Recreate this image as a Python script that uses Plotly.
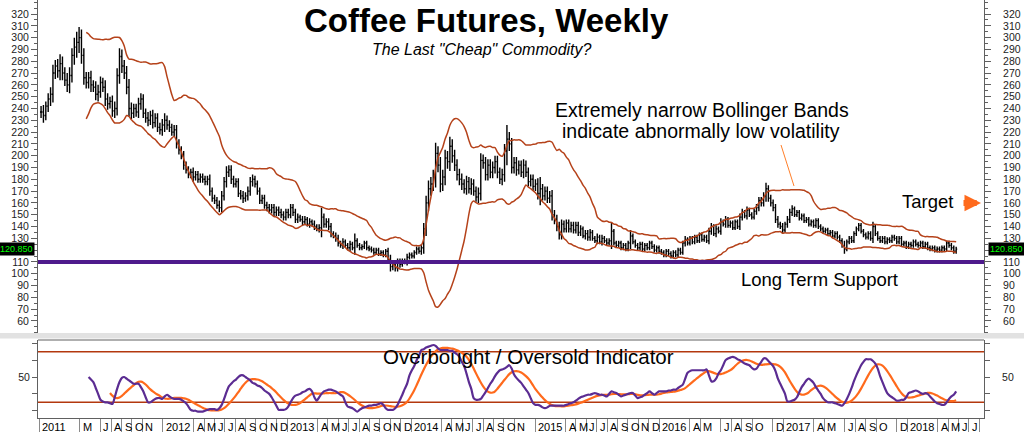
import numpy as np
import pandas as pd
import plotly.graph_objects as go

# ---------------- data ----------------
first_week = "2011-01-07"

closes = [
    237, 234, 242, 248, 252, 270, 276, 272, 278, 270,
    264, 260, 268, 285, 292, 296, 300, 285, 266, 262,
    266, 260, 258, 252, 254, 262, 258, 248, 244, 246,
    238, 240, 268, 284, 276, 270, 258, 240, 236, 240,
    237, 244, 248, 236, 232, 230, 234, 228, 232, 224,
    222, 226, 230, 226, 224, 220, 222, 210, 205, 200,
    192, 188, 184, 186, 182, 184, 180, 182, 180, 178,
    180, 170, 164, 162, 158, 156, 166, 178, 186, 188,
    180, 176, 178, 168, 166, 164, 166, 170, 178, 180,
    176, 170, 162, 164, 158, 156, 154, 156, 152, 154,
    152, 150, 148, 152, 150, 156, 152, 146, 148, 146,
    144, 146, 142, 144, 142, 140, 138, 139, 148, 142,
    144, 140, 134, 132, 130, 126, 124, 127, 124, 122,
    125, 122, 128, 124, 122, 123, 126, 122, 121, 120,
    118, 120, 117, 118, 116, 119, 112, 106, 108, 105,
    110, 108, 111, 110, 114, 116, 115, 118, 121, 119,
    122, 138, 160, 172, 176, 182, 202, 192, 176, 182,
    198, 195, 208, 200, 192, 184, 180, 176, 172, 178,
    172, 176, 170, 165, 168, 196, 194, 184, 192, 186,
    190, 195, 186, 180, 184, 204, 214, 210, 190, 194,
    188, 192, 186, 192, 186, 178, 180, 174, 176, 168,
    172, 166, 170, 164, 166, 150, 146, 140, 133, 142,
    138, 143, 138, 141, 137, 141, 135, 138, 132, 134,
    131, 135, 130, 128, 131, 127, 130, 128, 126, 128,
    136, 126, 124, 126, 122, 124, 121, 126, 132, 127,
    124, 122, 125, 121, 124, 122, 126, 123, 120, 122,
    119, 118, 116, 119, 117, 115, 118, 116, 120, 118,
    126, 129, 126, 130, 127, 131, 128, 133, 129, 131,
    128, 136, 140, 134, 138, 136, 144, 142, 146, 141,
    143, 139, 144, 140, 148, 152, 149, 154, 150, 148,
    153, 156, 162, 160, 166, 172, 164, 160, 156, 146,
    142, 140, 137, 142, 146, 152, 155, 150, 152, 147,
    149, 145, 146, 142, 144, 141, 145, 140, 138, 136,
    137, 134, 135, 132, 134, 131, 128, 124, 121, 127,
    130, 128, 134, 138, 141, 136, 133, 131, 134, 130,
    140, 134, 130, 128, 130, 127, 129, 128, 131, 130,
    127, 130, 125, 126, 123, 125, 124, 127, 125, 124,
    126, 123, 125, 122, 121, 122, 120, 121, 120, 122,
    121, 126, 124, 122, 119, 120.85,
]

wick = [
    5, 6, 4, 5, 6, 7, 5, 6, 8, 6, 5, 6, 7, 6, 8, 9, 9, 7, 6, 5,
    5, 6, 4, 5, 6, 5, 4, 6, 5, 4, 5, 6, 6, 7, 6, 5, 6, 7, 5, 4,
    4, 5, 5, 4, 4, 5, 4, 5, 4, 4, 4, 5, 6, 4, 4, 3, 4, 4, 4, 3,
    4, 3, 3, 3, 4, 3, 3, 3, 3, 3, 3, 4, 3, 3, 3, 4, 4, 4, 5, 4,
    4, 3, 3, 3, 3, 4, 3, 4, 4, 4, 3, 3, 3, 3, 3, 3, 3, 3, 3, 3,
    3, 3, 3, 3, 3, 3, 3, 3, 3, 2, 3, 3, 2, 3, 2, 3, 2, 3, 8, 3,
    3, 3, 3, 2, 3, 3, 2, 3, 2, 2, 3, 2, 6, 2, 2, 2, 2, 2, 2, 2,
    2, 2, 2, 2, 2, 2, 3, 4, 3, 3, 3, 3, 2, 2, 3, 2, 2, 2, 2, 2,
    3, 5, 6, 7, 6, 6, 9, 6, 7, 6, 7, 6, 8, 6, 5, 5, 5, 5, 4, 5,
    4, 5, 4, 4, 5, 6, 5, 5, 5, 5, 5, 5, 5, 4, 5, 6, 12, 6, 5, 5,
    5, 4, 4, 5, 4, 4, 4, 4, 4, 5, 10, 4, 4, 4, 4, 5, 4, 4, 4, 4,
    3, 3, 3, 3, 3, 3, 3, 3, 2, 3, 3, 3, 2, 2, 3, 2, 3, 2, 2, 2,
    7, 2, 2, 2, 2, 2, 2, 2, 5, 2, 2, 2, 2, 2, 2, 2, 2, 2, 2, 2,
    2, 2, 2, 2, 2, 2, 2, 2, 2, 2, 2, 3, 2, 2, 2, 2, 2, 2, 2, 2,
    2, 3, 3, 2, 3, 2, 3, 2, 3, 2, 2, 2, 2, 2, 3, 3, 2, 3, 2, 2,
    2, 3, 3, 3, 3, 5, 3, 3, 3, 3, 3, 2, 3, 2, 3, 3, 3, 2, 2, 2,
    2, 2, 2, 2, 2, 2, 2, 2, 2, 2, 2, 2, 2, 2, 2, 2, 2, 2, 4, 2,
    2, 2, 2, 2, 2, 2, 2, 2, 2, 2, 4, 2, 2, 2, 2, 2, 2, 2, 2, 2,
    2, 2, 2, 2, 2, 2, 2, 2, 2, 2, 2, 2, 2, 2, 2, 2, 2, 2, 2, 2,
    2, 2, 2, 2, 2, 2,
]

osc_start_week = 20
osc_fast = [
    50, 47, 44, 37, 30, 23, 21, 20, 20, 19,
    18, 26, 36, 44, 49, 50, 48, 46, 44, 42,
    42, 42, 38, 33, 26, 20, 20, 22, 24, 25,
    25, 24, 27, 29, 27, 25, 24, 24, 24, 23,
    21, 19, 15, 11, 10, 10, 9, 9, 9, 10,
    11, 12, 12, 12, 11, 13, 17, 24, 32, 39,
    42, 45, 47, 50, 52, 52, 50, 48, 46, 43,
    42, 40, 39, 37, 34, 32, 30, 26, 21, 16,
    11, 11, 11, 12, 15, 20, 25, 28, 29, 30,
    32, 33, 35, 36, 33, 26, 22, 26, 30, 33,
    34, 35, 35, 34, 33, 31, 29, 27, 20, 15,
    14, 13, 11, 9, 11, 13, 14, 15, 16, 16,
    17, 17, 18, 19, 17, 13, 11, 11, 11, 13,
    17, 23, 29, 36, 42, 52, 58, 63, 70, 75,
    82, 83, 85, 86, 87, 88, 87, 84, 82, 82,
    82, 82, 81, 81, 79, 77, 74, 68, 63, 54,
    44, 36, 25, 23, 23, 24, 28, 32, 37, 42,
    46, 51, 55, 58, 59, 60, 62, 64, 60, 53,
    49, 46, 43, 39, 35, 31, 25, 19, 17, 17,
    16, 14, 13, 14, 16, 16, 16, 16, 16, 16,
    16, 17, 18, 19, 20, 22, 24, 26, 27, 28,
    29, 29, 30, 31, 30, 29, 29, 28, 27, 30,
    33, 32, 31, 29, 27, 28, 29, 30, 31, 31,
    28, 25, 26, 27, 29, 31, 33, 31, 29, 31,
    33, 33, 33, 33, 34, 34, 35, 35, 37, 39,
    41, 48, 55, 57, 58, 58, 58, 58, 58, 58,
    59, 52, 45, 45, 48, 54, 58, 64, 70, 72,
    73, 74, 73, 71, 70, 68, 66, 65, 64, 61,
    59, 60, 64, 68, 72, 72, 69, 66, 63, 57,
    48, 42, 36, 30, 21, 21, 22, 23, 26, 32,
    38, 42, 46, 48, 46, 43, 38, 34, 30, 25,
    22, 20, 20, 20, 19, 18, 17, 16, 19, 24,
    30, 37, 45, 52, 58, 64, 68, 71, 71, 71,
    69, 66, 60, 51, 44, 37, 31, 28, 26, 24,
    22, 22, 23, 23, 26, 31, 32, 33, 34, 33,
    31, 30, 31, 30, 27, 24, 21, 19, 18, 17,
    17, 20, 24, 27, 29, 33,
]

# x-axis period labels (month start, label)
month_labels = [
    ("2011-01", "2011"), ("2011-05", "M"), ("2011-07", "J"), ("2011-08", "A"),
    ("2011-09", "S"), ("2011-10", "O"), ("2011-11", "N"),
    ("2012-01", "2012"), ("2012-04", "A"), ("2012-05", "M"), ("2012-06", "J"),
    ("2012-07", "J"), ("2012-08", "A"), ("2012-09", "S"), ("2012-10", "O"),
    ("2012-11", "N"), ("2012-12", "D"),
    ("2013-01", "2013"), ("2013-04", "A"), ("2013-05", "M"), ("2013-06", "J"),
    ("2013-07", "J"), ("2013-08", "A"), ("2013-09", "S"), ("2013-10", "O"),
    ("2013-11", "N"), ("2013-12", "D"),
    ("2014-01", "2014"), ("2014-04", "A"), ("2014-05", "M"), ("2014-06", "J"),
    ("2014-07", "J"), ("2014-08", "A"), ("2014-09", "S"), ("2014-10", "O"),
    ("2014-11", "N"),
    ("2015-01", "2015"), ("2015-04", "A"), ("2015-05", "M"), ("2015-06", "J"),
    ("2015-07", "J"), ("2015-08", "A"), ("2015-09", "S"), ("2015-10", "O"),
    ("2015-11", "N"), ("2015-12", "D"),
    ("2016-01", "2016"), ("2016-04", "A"), ("2016-05", "M"), ("2016-07", "J"),
    ("2016-08", "A"), ("2016-09", "S"), ("2016-10", "O"), ("2016-12", "D"),
    ("2017-01", "2017"), ("2017-04", "A"), ("2017-05", "M"), ("2017-07", "J"),
    ("2017-08", "A"), ("2017-09", "S"), ("2017-10", "O"), ("2017-12", "D"),
    ("2018-01", "2018"), ("2018-04", "A"), ("2018-05", "M"), ("2018-06", "J"),
    ("2018-07", "J"), ("2018-08", ""),
]

price_ticks = list(range(60, 330, 10))
osc_ticks = [10, 30, 50, 70, 90]
osc_tick_text = ["", "", "50", "", ""]
support_level = 110
target_level = 160
overbought, oversold = 80, 20
bb_period, bb_mult, signal_period = 20, 2, 10

# ---------------- derived series ----------------
dates = pd.date_range(first_week, periods=len(closes), freq="W-FRI")
c = np.array(closes, dtype=float)
o = np.r_[c[0], c[:-1]]
w = np.array(wick, dtype=float)
hi = np.maximum(o, c) + w
lo = np.minimum(o, c) - w

cs = pd.Series(c)
mid = cs.rolling(bb_period).mean()
sd = cs.rolling(bb_period).std(ddof=0)
upper = mid + bb_mult * sd
lower = mid - bb_mult * sd

fast = pd.Series([np.nan] * osc_start_week + osc_fast)
slow = fast.rolling(signal_period).mean()

# tick text: the last-price box covers the label nearest to it
last_price = closes[-1]
price_tick_text = ["" if abs(v - last_price) < 5 else str(v) for v in price_ticks]

# ---------------- figure ----------------
W, H = 1024, 432
ML, MR, MT, MB = 38, 40, 0, 14
PH = H - MT - MB
PW = W - ML - MR
main_bottom_px = 333
low_top_px = 340


def py(px):  # pixel y from top -> paper y
    return (PH - (px - MT)) / PH


def pxx(px):  # pixel x -> paper x
    return (px - ML) / PW


BAND = "#B5421A"
BLACK = "#000000"
PURPLE = "#5B2C92"
ORANGE = "#FF6A1C"
SUPPORT = "#4E1A8C"
AXIS = "#606060"
FONT = "Liberation Sans, Arial, sans-serif"

fig = go.Figure()

fig.add_trace(go.Ohlc(
    x=dates, open=o, high=hi, low=lo, close=c,
    increasing=dict(line=dict(color=BLACK, width=1.4)),
    decreasing=dict(line=dict(color=BLACK, width=1.4)),
    tickwidth=0.45, xaxis="x", yaxis="y", hoverinfo="skip", showlegend=False,
))
for band in (upper, lower):
    fig.add_trace(go.Scatter(
        x=dates, y=band, mode="lines", line=dict(color=BAND, width=1.5, shape="spline", smoothing=0.6),
        xaxis="x", yaxis="y", hoverinfo="skip", showlegend=False,
    ))
fig.add_trace(go.Scatter(
    x=dates, y=slow, mode="lines", line=dict(color=ORANGE, width=2.2, shape="spline", smoothing=0.8),
    xaxis="x2", yaxis="y2", hoverinfo="skip", showlegend=False,
))
fig.add_trace(go.Scatter(
    x=dates, y=fast, mode="lines", line=dict(color=PURPLE, width=2.2, shape="spline", smoothing=0.8),
    xaxis="x2", yaxis="y2", hoverinfo="skip", showlegend=False,
))

xrange = ["2010-12-29", "2018-08-15"]
main_dom = [py(main_bottom_px), 1.0]
low_dom = [0.0, py(low_top_px)]
yr_main = [49.8, 331.9]
yr_low = [1.4, 93.9]

tick_dates = [pd.Timestamp(m + "-01") for m, _ in month_labels]

ycommon = dict(
    range=yr_main, tickvals=price_ticks, ticktext=price_tick_text, ticks="outside", ticklen=6,
    tickcolor=AXIS, showline=True, linecolor=AXIS, linewidth=1, showgrid=False, zeroline=False,
    tickfont=dict(size=10.5, color="#222", family=FONT),
    minor=dict(dtick=5, tick0=0, ticks="outside", ticklen=3, tickcolor=AXIS, showgrid=False),
)
lcommon = dict(
    range=yr_low, tickvals=osc_ticks, ticktext=osc_tick_text, ticks="outside", ticklen=5,
    tickcolor=AXIS, showline=True, linecolor=AXIS, linewidth=1, showgrid=False, zeroline=False,
    tickfont=dict(size=10.5, color="#222", family=FONT),
)

fig.update_layout(
    width=W, height=H, autosize=False,
    margin=dict(l=ML, r=MR, t=MT, b=MB, pad=0),
    paper_bgcolor="white", plot_bgcolor="white",
    showlegend=False,
    font=dict(family=FONT, color="#000"),
    xaxis=dict(domain=[0, 1], anchor="y", type="date", range=xrange, showticklabels=False,
               showline=False, ticks="", showgrid=False, zeroline=False,
               rangeslider=dict(visible=False)),
    xaxis2=dict(domain=[0, 1], anchor="y2", type="date", range=xrange, matches="x",
                tickvals=tick_dates, ticktext=[""] * len(tick_dates), ticks="outside",
                ticklen=14, tickcolor="#8a8a8a", tickwidth=1, showline=True, linecolor=AXIS,
                showgrid=False, zeroline=False, rangeslider=dict(visible=False)),
    yaxis=dict(domain=main_dom, anchor="x", side="left", **ycommon),
    yaxis3=dict(overlaying="y", anchor="x", side="right", ticklabelstandoff=10, **ycommon),
    yaxis2=dict(domain=low_dom, anchor="x2", side="left", **lcommon),
    yaxis4=dict(overlaying="y2", anchor="x2", side="right", ticklabelstandoff=10, **lcommon),
)

# dummy traces to activate right axes
fig.add_trace(go.Scatter(x=[dates[0]], y=[None], xaxis="x", yaxis="y3", showlegend=False, hoverinfo="skip"))
fig.add_trace(go.Scatter(x=[dates[0]], y=[None], xaxis="x2", yaxis="y4", showlegend=False, hoverinfo="skip"))

shapes = [
    # separator band between panels
    dict(type="rect", xref="paper", yref="paper", x0=-ML / PW, x1=1 + MR / PW,
         y0=py(338.5), y1=py(main_bottom_px), fillcolor="#e2e2e2", line=dict(width=0), layer="below"),
    dict(type="line", xref="paper", yref="paper", x0=0, x1=1, y0=py(low_top_px), y1=py(low_top_px),
         line=dict(color=AXIS, width=1)),
    # support line
    dict(type="line", xref="paper", yref="y", x0=0, x1=1, y0=support_level, y1=support_level,
         line=dict(color=SUPPORT, width=4)),
    # overbought / oversold levels
    dict(type="line", xref="paper", yref="y2", x0=0, x1=1, y0=overbought, y1=overbought,
         line=dict(color="#B3380E", width=1.5), layer="below"),
    dict(type="line", xref="paper", yref="y2", x0=0, x1=1, y0=oversold, y1=oversold,
         line=dict(color="#B3380E", width=1.5), layer="below"),
    # leader line from annotation to bands
    dict(type="line", xref="paper", yref="paper", x0=pxx(781), y0=py(145), x1=pxx(794), y1=py(186),
         line=dict(color="#FF7F2A", width=1)),
]
fig.update_layout(shapes=shapes)

ann = [
    dict(text="<b>Coffee Futures, Weekly</b>", x=pxx(486), y=py(20), font=dict(size=33, color="#000")),
    dict(text="<i>The Last \"Cheap\" Commodity?</i>", x=pxx(482), y=py(49), font=dict(size=16, color="#000")),
    dict(text="Extremely narrow Bollinger Bands", x=pxx(702), y=py(110), font=dict(size=19.5, color="#000")),
    dict(text="indicate abnormally low volatility", x=pxx(701), y=py(131), font=dict(size=19.5, color="#000")),
    dict(text="Long Term Support", x=pxx(819), y=py(279), font=dict(size=18.5, color="#000")),
    dict(text="Target", x=pxx(955), y=py(201), xanchor="right", font=dict(size=18.5, color="#000")),
    dict(text="Overbought / Oversold Indicator", x=pxx(528), y=py(356), font=dict(size=20.5, color="#000")),
]
for a in ann:
    a.setdefault("xanchor", "center")
    fig.add_annotation(xref="paper", yref="paper", yanchor="middle", showarrow=False, **a)

# target arrow
fig.add_annotation(xref="paper", yref="y", x=pxx(981), y=target_level, ax=-19, ay=0,
                   text="", showarrow=True, arrowhead=2, arrowsize=0.55, arrowwidth=6,
                   arrowcolor="#FF6A1C", standoff=0)

# last price boxes
last_txt = f"{last_price:.3f}"
for xp, xa, xs in ((0, "right", -3), (1, "left", 4)):
    fig.add_annotation(xref="paper", yref="y", x=xp, y=last_price, xanchor=xa, xshift=xs,
                       text=last_txt, showarrow=False, bgcolor="#000", borderpad=1,
                       font=dict(size=9, color="#00FF00", family=FONT))

# month / year labels
for (m, lab), d in zip(month_labels, tick_dates):
    if not lab:
        continue
    fig.add_annotation(xref="x2", yref="paper", x=d, y=0, xanchor="left", yanchor="top",
                       xshift=1, yshift=-1, text=lab, showarrow=False,
                       font=dict(size=11, color="#000", family=FONT))

fig.write_html("out.html")
